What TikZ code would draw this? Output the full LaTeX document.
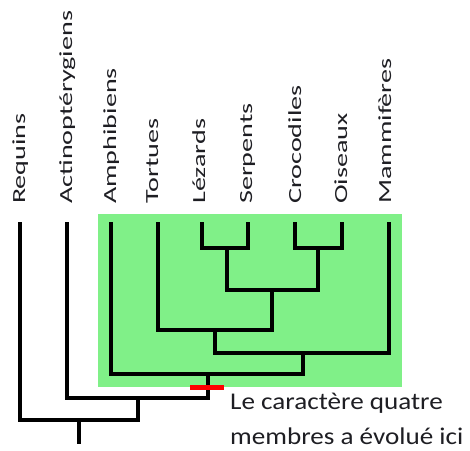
\documentclass[tikz,border=0pt]{standalone}
\usepackage{fontspec}
\setmainfont{Carlito}
\usepackage{graphicx}
\definecolor{cladegreen}{RGB}{128,240,136}
\definecolor{txt}{RGB}{30,30,35}
\begin{document}
\begin{tikzpicture}[x=1pt,y=-1pt,
  branch/.style={line width=4.6pt, line cap=rect, line join=miter, black},
  lab/.style={rotate=90, anchor=base west, inner sep=0pt, text=txt, font=\fontsize{18.5}{22}\selectfont},
  note/.style={anchor=base west, inner sep=0pt, text=txt, font=\fontsize{24}{28}\selectfont}]
\useasboundingbox (0,0) rectangle (470,450);
% green clade box
\fill[cladegreen] (98,214) rectangle (402,387);
% leaves
\coordinate (req) at (20,224);
\coordinate (act) at (67,224);
\coordinate (amph) at (111,224);
\coordinate (tort) at (158,224);
\coordinate (lez) at (202,224);
\coordinate (serp) at (248,224);
\coordinate (croc) at (295,224);
\coordinate (ois) at (342,224);
\coordinate (mamm) at (389,224);
% internal nodes
\coordinate (n1) at (227,248);
\coordinate (n2) at (318,248);
\coordinate (n3) at (272,290);
\coordinate (n4) at (215,330);
\coordinate (n5) at (303,353);
\coordinate (n6) at (208,374);
\coordinate (n7) at (138,398);
\coordinate (n8) at (79,420);
\coordinate (root) at (79,442);
% branches
\draw[branch] (lez) |- (n1) -| (serp);
\draw[branch] (croc) |- (n2) -| (ois);
\draw[branch] (n1) |- (n3) -| (n2);
\draw[branch] (tort) |- (n4) -| (n3);
\draw[branch] (n4) |- (n5) -| (mamm);
\draw[branch] (amph) |- (n6) -| (n5);
\draw[branch] (act) |- (n7) -| (n6);
\draw[branch] (req) |- (n8) -| (n7);
\draw[branch] (n8) -- (root);
% red mark
\coordinate (ma) at (190,387);
\coordinate (mb) at (224,387);
\draw[red, line width=5pt] (ma) -- (mb);
% labels
\node[lab] (lreq) at (25,204) {\scalebox{1.52}[1]{Requins}};
\node[lab] (lact) at (72,204) {\scalebox{1.52}[1]{Actinoptérygiens}};
\node[lab] (lamph) at (116,204) {\scalebox{1.52}[1]{Amphibiens}};
\node[lab] (ltort) at (158,204) {\scalebox{1.52}[1]{Tortues}};
\node[lab] (llez) at (205,204) {\scalebox{1.52}[1]{Lézards}};
\node[lab] (lserp) at (252,204) {\scalebox{1.52}[1]{Serpents}};
\node[lab] (lcroc) at (301,204) {\scalebox{1.52}[1]{Crocodiles}};
\node[lab] (lois) at (347,204) {\scalebox{1.52}[1]{Oiseaux}};
\node[lab] (lmamm) at (391,204) {\scalebox{1.52}[1]{Mammifères}};
% note
\node[note] (note1) at (230,409) {\scalebox{1.13}[1]{Le caractère quatre}};
\node[note] (note2) at (230,444) {\scalebox{1.13}[1]{membres a évolué ici}};
\end{tikzpicture}
\end{document}
